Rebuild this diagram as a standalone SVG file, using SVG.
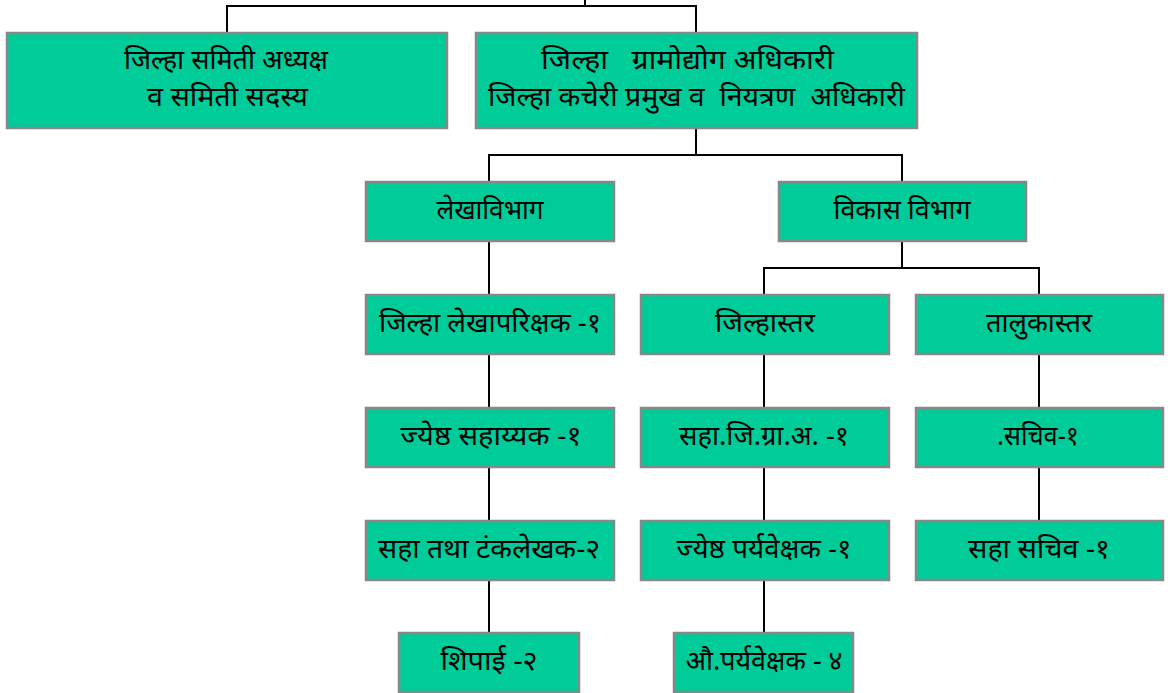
<svg xmlns="http://www.w3.org/2000/svg" width="1173" height="693" viewBox="0 0 1173 693">
<style>
.box{fill:#00CC99;stroke:#888888;stroke-width:2.5}
.t{font-family:"Noto Sans","Noto Sans Devanagari","Lohit Devanagari","Liberation Sans",sans-serif;font-size:27px;fill:#000;text-anchor:middle;white-space:pre}
.s{text-anchor:start}
.c{fill:none;stroke:#000;stroke-width:2}
</style>
<rect width="1173" height="693" fill="#fff"/>
<g id="connectors">
<path class="c" d="M585,0V6M227,33V6H696V33"/>
<path class="c" d="M696,128V155M489,182V155H902V182"/>
<path class="c" d="M489,241V295M489,354V408M489,467V521M489,580V633"/>
<path class="c" d="M902,241V268M764,295V268H1039V295"/>
<path class="c" d="M764,354V408M764,467V521M764,580V633"/>
<path class="c" d="M1039,354V408M1039,467V521"/>
</g>
<g id="n1"><rect class="box" x="7" y="33" width="440" height="95"/><text class="t s" x="124" y="69" textLength="204" lengthAdjust="spacingAndGlyphs">जिल्हा समिती अध्यक्ष</text><text class="t s" x="147" y="106" textLength="161" lengthAdjust="spacingAndGlyphs">व समिती सदस्य</text></g>
<g id="n2"><rect class="box" x="476" y="33" width="441" height="95"/><text class="t s" x="541" y="69" textLength="293" lengthAdjust="spacingAndGlyphs">जिल्हा   ग्रामोद्योग अधिकारी</text><text class="t s" x="488" y="106" textLength="417" lengthAdjust="spacingAndGlyphs">जिल्हा कचेरी प्रमुख व  नियत्रण  अधिकारी</text></g>
<g id="n3"><rect class="box" x="366" y="182" width="248" height="59"/><text class="t" x="490" y="219" textLength="107" lengthAdjust="spacingAndGlyphs">लेखाविभाग</text></g>
<g id="n4"><rect class="box" x="779" y="182" width="247" height="59"/><text class="t" x="902" y="219" textLength="137" lengthAdjust="spacingAndGlyphs">विकास विभाग</text></g>
<g id="n5"><rect class="box" x="366" y="295" width="248" height="59"/><text class="t" x="490" y="332" textLength="222" lengthAdjust="spacingAndGlyphs">जिल्हा लेखापरिक्षक -१</text></g>
<g id="n6"><rect class="box" x="641" y="295" width="248" height="59"/><text class="t" x="765" y="332" textLength="100" lengthAdjust="spacingAndGlyphs">जिल्हास्तर</text></g>
<g id="n7"><rect class="box" x="916" y="295" width="247" height="59"/><text class="t" x="1039" y="332" textLength="106" lengthAdjust="spacingAndGlyphs">तालुकास्तर</text></g>
<g id="n8"><rect class="box" x="366" y="408" width="248" height="59"/><text class="t" x="491" y="445" textLength="181" lengthAdjust="spacingAndGlyphs">ज्येष्ठ सहाय्यक -१</text></g>
<g id="n9"><rect class="box" x="641" y="408" width="248" height="59"/><text class="t" x="764" y="445" textLength="170" lengthAdjust="spacingAndGlyphs">सहा.जि.ग्रा.अ. -१</text></g>
<g id="n10"><rect class="box" x="916" y="408" width="247" height="59"/><text class="t" x="1038" y="445" textLength="82" lengthAdjust="spacingAndGlyphs">.सचिव-१</text></g>
<g id="n11"><rect class="box" x="366" y="521" width="248" height="59"/><text class="t" x="489" y="558" textLength="222" lengthAdjust="spacingAndGlyphs">सहा तथा टंकलेखक-२</text></g>
<g id="n12"><rect class="box" x="641" y="521" width="248" height="59"/><text class="t" x="764" y="558" textLength="175" lengthAdjust="spacingAndGlyphs">ज्येष्ठ पर्यवेक्षक -१</text></g>
<g id="n13"><rect class="box" x="916" y="521" width="247" height="59"/><text class="t" x="1039" y="558" textLength="142" lengthAdjust="spacingAndGlyphs">सहा सचिव -१</text></g>
<g id="n14"><rect class="box" x="399" y="633" width="180" height="59"/><text class="t" x="489" y="670" textLength="97" lengthAdjust="spacingAndGlyphs">शिपाई -२</text></g>
<g id="n15"><rect class="box" x="674" y="633" width="179" height="59"/><text class="t" x="764" y="670" textLength="157" lengthAdjust="spacingAndGlyphs">औ.पर्यवेक्षक - ४</text></g>
</svg>
